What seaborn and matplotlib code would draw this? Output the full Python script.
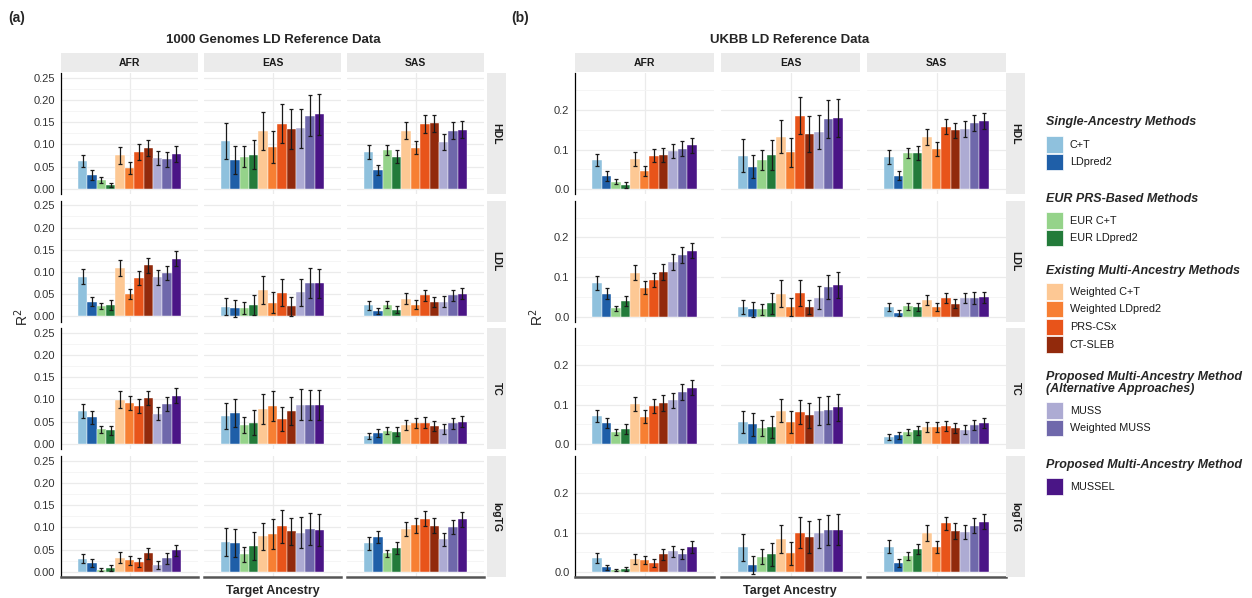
import numpy as np
import pandas as pd
import seaborn as sns
import matplotlib.pyplot as plt
from matplotlib.patches import Rectangle
from matplotlib.ticker import MultipleLocator, FormatStrFormatter

# methods, colours
methods = ['C+T', 'LDpred2', 'EUR C+T', 'EUR LDpred2', 'Weighted C+T', 'Weighted LDpred2',
           'PRS-CSx', 'CT-SLEB', 'MUSS', 'Weighted MUSS', 'MUSSEL']
colors = ['#8FC1DD', '#1F5FA8', '#95D38A', '#237B3A', '#FDC894', '#F77F33',
          '#E8541A', '#922A0C', '#ADABD3', '#6F68AB', '#4A1586']
ancestries = ['AFR', 'EAS', 'SAS']
traits = ['HDL', 'LDL', 'TC', 'logTG']

# (a) 1000 Genomes LD reference, rows AFR / EAS / SAS
g1k_hdl = [[0.062, 0.031, 0.020, 0.009, 0.0755, 0.047, 0.082, 0.092, 0.069, 0.0665, 0.0785],
           [0.107, 0.065, 0.0725, 0.077, 0.131, 0.094, 0.147, 0.135, 0.136, 0.165, 0.168],
           [0.082, 0.042, 0.0876, 0.0725, 0.131, 0.093, 0.146, 0.148, 0.106, 0.131, 0.133]]
g1k_hdl_err = [[0.014, 0.011, 0.007, 0.005, 0.0196, 0.0136, 0.018, 0.0177, 0.0155, 0.0166, 0.0178],
               [0.041, 0.031, 0.0245, 0.033, 0.043, 0.037, 0.044, 0.045, 0.044, 0.046, 0.046],
               [0.016, 0.011, 0.011, 0.014, 0.019, 0.015, 0.0196, 0.019, 0.018, 0.019, 0.019]]
g1k_ldl = [[0.089, 0.033, 0.0227, 0.025, 0.109, 0.050, 0.086, 0.115, 0.088, 0.097, 0.130],
           [0.022, 0.018, 0.0196, 0.025, 0.059, 0.031, 0.053, 0.023, 0.054, 0.075, 0.074],
           [0.025, 0.012, 0.0264, 0.015, 0.040, 0.0257, 0.0476, 0.0325, 0.033, 0.047, 0.051]]
g1k_ldl_err = [[0.0166, 0.0106, 0.007, 0.0106, 0.018, 0.012, 0.016, 0.017, 0.017, 0.016, 0.017],
               [0.020, 0.019, 0.0136, 0.023, 0.031, 0.024, 0.030, 0.0215, 0.030, 0.033, 0.033],
               [0.0098, 0.007, 0.0075, 0.0075, 0.012, 0.010, 0.0125, 0.011, 0.0117, 0.013, 0.0125]]
g1k_tc = [[0.0746, 0.0596, 0.0324, 0.030, 0.0995, 0.092, 0.086, 0.1025, 0.068, 0.0905, 0.1085],
          [0.063, 0.070, 0.0415, 0.0475, 0.078, 0.086, 0.0566, 0.074, 0.088, 0.0875, 0.0875],
          [0.018, 0.024, 0.029, 0.027, 0.042, 0.046, 0.0475, 0.040, 0.033, 0.046, 0.050]]
g1k_tc_err = [[0.0155, 0.015, 0.008, 0.010, 0.0185, 0.0166, 0.016, 0.016, 0.015, 0.016, 0.0177],
              [0.029, 0.032, 0.018, 0.0287, 0.034, 0.0336, 0.027, 0.0317, 0.035, 0.034, 0.034],
              [0.007, 0.009, 0.008, 0.0098, 0.012, 0.011, 0.012, 0.011, 0.0113, 0.0117, 0.012]]
g1k_tg = [[0.0295, 0.020, 0.0045, 0.0083, 0.0317, 0.0257, 0.021, 0.0415, 0.016, 0.030, 0.048],
          [0.068, 0.065, 0.039, 0.058, 0.080, 0.086, 0.1027, 0.091, 0.088, 0.0967, 0.0937],
          [0.064, 0.079, 0.0415, 0.054, 0.096, 0.105, 0.120, 0.1035, 0.073, 0.101, 0.118]]
g1k_tg_err = [[0.0106, 0.009, 0.003, 0.006, 0.0128, 0.0106, 0.0098, 0.012, 0.0087, 0.012, 0.013],
              [0.0317, 0.031, 0.0174, 0.031, 0.0306, 0.034, 0.037, 0.0306, 0.035, 0.036, 0.036],
              [0.0143, 0.0136, 0.0087, 0.0132, 0.0159, 0.017, 0.0174, 0.0166, 0.0155, 0.016, 0.0166]]

# (b) UKBB LD reference
ukb_hdl = [[0.0746, 0.034, 0.0195, 0.012, 0.077, 0.046, 0.085, 0.087, 0.0966, 0.1025, 0.111],
           [0.085, 0.057, 0.0746, 0.0864, 0.133, 0.093, 0.1856, 0.139, 0.144, 0.177, 0.180],
           [0.0805, 0.0347, 0.0915, 0.092, 0.132, 0.101, 0.158, 0.149, 0.152, 0.166, 0.171]]
ukb_hdl_err = [[0.0148, 0.012, 0.0068, 0.0076, 0.0174, 0.012, 0.0174, 0.0178, 0.0174, 0.019, 0.019],
               [0.0415, 0.0297, 0.025, 0.037, 0.042, 0.037, 0.0475, 0.045, 0.043, 0.047, 0.047],
               [0.0174, 0.012, 0.0136, 0.0174, 0.0208, 0.017, 0.0195, 0.019, 0.0195, 0.020, 0.020]]
ukb_ldl = [[0.0856, 0.0585, 0.022, 0.039, 0.111, 0.0737, 0.093, 0.1127, 0.137, 0.156, 0.167],
           [0.0246, 0.0186, 0.0186, 0.034, 0.0585, 0.0246, 0.060, 0.0246, 0.0475, 0.0746, 0.081],
           [0.0246, 0.010, 0.026, 0.0246, 0.0415, 0.0246, 0.0475, 0.033, 0.0475, 0.0475, 0.049]]
ukb_ldl_err = [[0.0178, 0.0136, 0.0064, 0.0127, 0.019, 0.0153, 0.0178, 0.020, 0.020, 0.0195, 0.0195],
               [0.0174, 0.0186, 0.0136, 0.026, 0.033, 0.023, 0.032, 0.017, 0.029, 0.030, 0.0326],
               [0.0106, 0.007, 0.0076, 0.010, 0.0127, 0.010, 0.0127, 0.0114, 0.013, 0.014, 0.0144]]
ukb_tc = [[0.0717, 0.054, 0.032, 0.039, 0.1004, 0.070, 0.097, 0.1046, 0.111, 0.131, 0.1426],
          [0.0565, 0.050, 0.042, 0.044, 0.084, 0.0565, 0.081, 0.073, 0.084, 0.087, 0.093],
          [0.0186, 0.0228, 0.030, 0.0354, 0.044, 0.043, 0.047, 0.041, 0.037, 0.049, 0.053]]
ukb_tc_err = [[0.015, 0.013, 0.0076, 0.0127, 0.0177, 0.0156, 0.0177, 0.0207, 0.0186, 0.0198, 0.0194],
              [0.028, 0.028, 0.020, 0.027, 0.029, 0.028, 0.031, 0.032, 0.035, 0.035, 0.0346],
              [0.0076, 0.0089, 0.0076, 0.0118, 0.0118, 0.0122, 0.0127, 0.0127, 0.0114, 0.013, 0.0127]]
ukb_tg = [[0.0356, 0.0127, 0.006, 0.0085, 0.033, 0.0305, 0.0237, 0.045, 0.0534, 0.0458, 0.0644],
          [0.0627, 0.0186, 0.039, 0.045, 0.0847, 0.0475, 0.100, 0.0898, 0.098, 0.1068, 0.1076],
          [0.065, 0.0237, 0.042, 0.0576, 0.099, 0.0644, 0.123, 0.105, 0.1025, 0.117, 0.128]]
ukb_tg_err = [[0.0119, 0.0064, 0.0034, 0.0055, 0.0119, 0.0106, 0.0097, 0.0148, 0.0136, 0.0127, 0.0153],
              [0.034, 0.0216, 0.019, 0.028, 0.0356, 0.028, 0.0386, 0.0407, 0.0373, 0.0386, 0.0394],
              [0.0153, 0.0102, 0.010, 0.0127, 0.0195, 0.0148, 0.0174, 0.020, 0.0178, 0.0186, 0.0195]]

legend_groups = [('Single-Ancestry Methods', [0, 1]),
                 ('EUR PRS-Based Methods', [2, 3]),
                 ('Existing Multi-Ancestry Methods', [4, 5, 6, 7]),
                 ('Proposed Multi-Ancestry Method\n(Alternative Approaches)', [8, 9]),
                 ('Proposed Multi-Ancestry Method', [10])]


def make_df(vals, errs):
    rows = []
    for t, v, e in zip(traits, vals, errs):
        for a, va, ea in zip(ancestries, v, e):
            for m, x, s in zip(methods, va, ea):
                rows.append((t, a, m, x, s))
    return pd.DataFrame(rows, columns=['trait', 'ancestry', 'method', 'r2', 'se'])


df_a = make_df([g1k_hdl, g1k_ldl, g1k_tc, g1k_tg], [g1k_hdl_err, g1k_ldl_err, g1k_tc_err, g1k_tg_err])
df_b = make_df([ukb_hdl, ukb_ldl, ukb_tc, ukb_tg], [ukb_hdl_err, ukb_ldl_err, ukb_tc_err, ukb_tg_err])

sns.set_style('white')
plt.rcParams['font.family'] = ['Liberation Sans', 'DejaVu Sans']

W, H = 1252, 598
fig = plt.figure(figsize=(W / 100, H / 100), dpi=100)


def px_axes(x, y, w, h):
    return fig.add_axes([x / W, 1 - (y + h) / H, w / W, h / H])


palette = dict(zip(methods, colors))
row_tops = [73, 200.5, 328, 456]
row_h = 121
strip_col = '#EBEBEB'


def draw_panel(df, col_x, col_w, strip_x, ylim, major, fmt, title, title_x, tag, tag_x, ylab_x):
    for i, t in enumerate(traits):
        for j, a in enumerate(ancestries):
            sub = df[(df.trait == t) & (df.ancestry == a)]
            ax = px_axes(col_x[j], row_tops[i], col_w, row_h)
            sns.barplot(data=sub, x='method', y='r2', hue='method', order=methods,
                        hue_order=methods, palette=palette, width=1, errorbar=None,
                        saturation=1, legend=False, edgecolor='white', linewidth=0.3, ax=ax)
            ax.errorbar(np.arange(len(methods)), sub['r2'].values, yerr=sub['se'].values,
                        fmt='none', ecolor='#1a1a1a', elinewidth=0.9, capsize=1.4,
                        capthick=0.9, zorder=5)
            ax.set_xlim(-0.5 - 1.82, 10.5 + 1.82)
            ax.set_ylim(*ylim)
            ax.set_xticks([5])
            ax.set_xticklabels([])
            ax.yaxis.set_major_locator(MultipleLocator(major))
            ax.yaxis.set_minor_locator(MultipleLocator(major / 2))
            ax.yaxis.set_major_formatter(FormatStrFormatter(fmt))
            ax.grid(True, which='major', color='#EBEBEB', lw=0.9)
            ax.grid(True, which='minor', axis='y', color='#F4F4F4', lw=0.6)
            ax.set_axisbelow(True)
            ax.set_xlabel('')
            ax.set_ylabel('')
            ax.tick_params(axis='x', length=0)
            ax.tick_params(axis='y', which='minor', length=0)
            for s in ax.spines.values():
                s.set_visible(False)
            if j == 0:
                ax.spines['left'].set_visible(True)
                ax.spines['left'].set_color('black')
                ax.spines['left'].set_linewidth(0.9)
                ax.tick_params(axis='y', which='major', length=2.5, width=0.7,
                               color='black', labelsize=8, labelcolor='#333333', pad=1.5)
            else:
                ax.tick_params(axis='y', which='major', length=0, labelleft=False)
            if i == len(traits) - 1:
                ax.spines['bottom'].set_visible(True)
                ax.spines['bottom'].set_color('#555555')
                ax.spines['bottom'].set_linewidth(1.8)
            if i == 0:
                sax = px_axes(col_x[j], 53, col_w, 19)
                sax.set_facecolor(strip_col)
                sax.set_xticks([])
                sax.set_yticks([])
                for s in sax.spines.values():
                    s.set_visible(False)
                sax.text(0.5, 0.5, a, ha='center', va='center', fontsize=7.5,
                         fontweight='bold', color='#1a1a1a', transform=sax.transAxes)
        rax = px_axes(strip_x, row_tops[i], 19, row_h)
        rax.set_facecolor(strip_col)
        rax.set_xticks([])
        rax.set_yticks([])
        for s in rax.spines.values():
            s.set_visible(False)
        rax.text(0.5, 0.5, t, ha='center', va='center', rotation=-90, fontsize=7.5,
                 fontweight='bold', color='#1a1a1a', transform=rax.transAxes)
    fig.text(title_x / W, 1 - 40 / H, title, ha='center', va='center', fontsize=9.5,
             fontweight='bold')
    fig.text(tag_x / W, 1 - 18 / H, tag, ha='left', va='center', fontsize=10,
             fontweight='bold')
    fig.text(title_x / W, 1 - 591 / H, 'Target Ancestry', ha='center', va='center',
             fontsize=9, fontweight='bold')
    fig.text(ylab_x / W, 1 - 317 / H, 'R$^2$', ha='center', va='center', rotation=90,
             fontsize=10)


draw_panel(df_a, [61, 204, 347], 137, 487, (-0.0118, 0.261), 0.05, '%.2f',
           '1000 Genomes LD Reference Data', 273, '(a)', 8, 22)
draw_panel(df_b, [575, 721, 867], 139, 1006, (-0.0118, 0.293), 0.1, '%.1f',
           'UKBB LD Reference Data', 790, '(b)', 511, 537)

# grouped legend
title_y = [122, 199, 271, 383, 465]
key_y0 = [136, 212, 283, 402, 478]
for (gt, idx), ty, ky in zip(legend_groups, title_y, key_y0):
    fig.text(1046 / W, 1 - ty / H, gt, ha='left', va='center', fontsize=9,
             fontweight='bold', fontstyle='italic', linespacing=1.0)
    for k, m in enumerate(idx):
        y = ky + k * 17.8
        fig.add_artist(Rectangle((1046 / W, 1 - (y + 16.5) / H), 17 / W, 16.5 / H,
                                 facecolor=colors[m], edgecolor='white', lw=0.5,
                                 transform=fig.transFigure))
        fig.text(1070 / W, 1 - (y + 8.5) / H, methods[m], ha='left', va='center',
                 fontsize=7.8, color='#1a1a1a')

fig.savefig('out.png', dpi=100)
